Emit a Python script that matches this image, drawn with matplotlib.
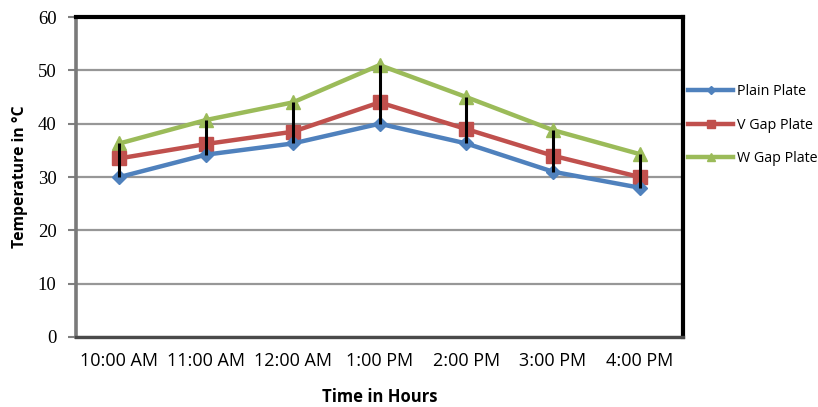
import numpy as np
import matplotlib.pyplot as plt

# ---------------- data ----------------
hours = ['10:00 AM', '11:00 AM', '12:00 AM', '1:00 PM', '2:00 PM', '3:00 PM', '4:00 PM']
plain = [30.0, 34.2, 36.3, 40.0, 36.3, 31.0, 28.0]
vgap = [33.5, 36.2, 38.5, 44.0, 39.0, 34.0, 30.0]
wgap = [36.3, 40.7, 44.0, 51.0, 45.0, 38.8, 34.3]
yticks = [0, 10, 20, 30, 40, 50, 60]

c_blue = '#4F81BD'
c_red = '#C0504D'
c_green = '#9BBB59'

fig = plt.figure(figsize=(8.18, 4.07), dpi=100)
ax = fig.add_axes([0.093, 0.172, 0.742, 0.786])

x = np.arange(len(hours))

# high-low lines (black)
lo = np.minimum(np.minimum(plain, vgap), wgap)
hi = np.maximum(np.maximum(plain, vgap), wgap)
ax.vlines(x, lo, hi, color='black', lw=2.2, zorder=5)

ax.plot(x, plain, color=c_blue, lw=3.2, marker='D', ms=7, zorder=4, label='Plain Plate')
ax.plot(x, vgap, color=c_red, lw=3.2, marker='s', ms=10, zorder=3, label='V Gap Plate')
ax.plot(x, wgap, color=c_green, lw=3.2, marker='^', ms=10, zorder=2, label='W Gap Plate')

ax.set_xlim(-0.5, len(hours) - 0.5)
ax.set_ylim(0, 60)
ax.set_yticks(yticks)
ax.set_yticklabels([str(v) for v in yticks], fontfamily='Liberation Serif', fontsize=13.5)
ax.set_xticks(x)
ax.set_xticklabels(hours, fontfamily='Open Sans', fontsize=13)
ax.tick_params(axis='x', length=0, pad=11)
ax.tick_params(axis='y', length=6, width=1.5, color='#808080', pad=8)

ax.yaxis.grid(True, color='#979797', lw=1.6)
ax.set_axisbelow(True)

for s in ['top', 'right']:
    ax.spines[s].set_color('black')
    ax.spines[s].set_linewidth(3)
ax.spines['left'].set_color('#7a7a7a')
ax.spines['left'].set_linewidth(2.6)
ax.spines['bottom'].set_color('#4a4a4a')
ax.spines['bottom'].set_linewidth(2.4)

ax.set_xlabel('Time in Hours', fontfamily='Open Sans', fontweight='bold', fontsize=12)
ax.set_ylabel('Temperature in \u00b0C', fontfamily='Open Sans', fontweight='bold', fontsize=11.3)
ax.xaxis.set_label_coords(0.5, -0.158)
ax.yaxis.set_label_coords(-0.079, 0.5)

leg = ax.legend(loc='upper left', bbox_to_anchor=(688 / 818, 1 - 84 / 407),
                bbox_transform=fig.transFigure, frameon=False,
                prop={'family': 'Open Sans', 'size': 10.3}, handlelength=3.15,
                handletextpad=0.25, labelspacing=1.3, borderaxespad=0, borderpad=0,
                markerscale=0.55)

fig.savefig('out.png', dpi=100)
